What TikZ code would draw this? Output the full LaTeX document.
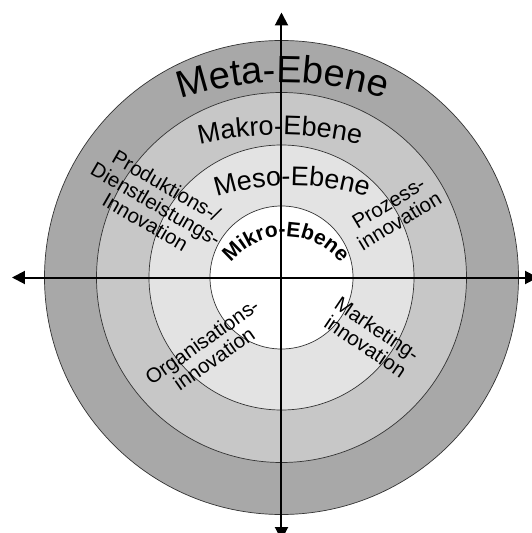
\documentclass[tikz,border=0pt]{standalone}
\usepackage{fontspec}
\setmainfont{Liberation Sans}
\usetikzlibrary{decorations.text,arrows.meta}
\definecolor{cmeta}{gray}{0.66}
\definecolor{cmakro}{gray}{0.78}
\definecolor{cmeso}{gray}{0.89}
\begin{document}
\begin{tikzpicture}[x=1pt,y=1pt,
  ring/.style={circle, draw=black!80, line width=0.7pt, inner sep=0pt},
  axisline/.style={line width=2pt, {Triangle[length=13pt,width=13pt]}-{Triangle[length=13pt,width=13pt]}},
  lbl/.style={font=\fontsize{20.5}{21}\selectfont, align=center, inner sep=0pt},
  arctext/.style={decorate, decoration={text along path, text align=center, text={#1}}}
]
\useasboundingbox (-281.5,-255.5) rectangle (249.5,277.5);
\fill[white] (-281.5,-255.5) rectangle (249.5,277.5);
\coordinate (O) at (0,0);
\node[ring, fill=cmeta, minimum size=474pt] (meta) at (O) {};
\node[ring, fill=cmakro, minimum size=370pt] (makro) at (O) {};
\node[ring, fill=cmeso, minimum size=265pt] (meso) at (O) {};
\node[ring, fill=white, minimum size=143pt] (mikro) at (O) {};
\coordinate (L) at (-269.5,0);
\coordinate (R) at (256.5,0);
\coordinate (T) at (0,265);
\coordinate (B) at (0,-262.5);
\draw[axisline] (L) -- (R);
\draw[axisline] (B) -- (T);
\path[arctext={|\fontsize{38}{38}\selectfont|Meta-Ebene}] (1,-125) ++(125:320) arc[start angle=125, end angle=55, radius=320];
\path[arctext={|\fontsize{27}{27}\selectfont|Makro-Ebene}] (-1.5,-207.5) ++(120:350) arc[start angle=120, end angle=60, radius=350];
\path[arctext={|\fontsize{27}{27}\selectfont|Meso-Ebene}] (10.5,-158) ++(130:250) arc[start angle=130, end angle=50, radius=250];
\path[arctext={|\fontsize{21}{21}\selectfont\bfseries|Mikro-Ebene}] (4.3,-29) ++(175:70) arc[start angle=175, end angle=5, radius=70];
\node[lbl, rotate=-30] (prod) at (-125.5,73.5) {Produktions-/\\Dienstleistungs-\\Innovation};
\node[lbl, rotate=31] (proz) at (112.5,65.5) {Prozess-\\innovation};
\node[lbl, rotate=35] (org) at (-73.5,-72.5) {Organisations-\\innovation};
\node[lbl, rotate=-34] (mark) at (90,-60) {Marketing-\\innovation};
\end{tikzpicture}
\end{document}
